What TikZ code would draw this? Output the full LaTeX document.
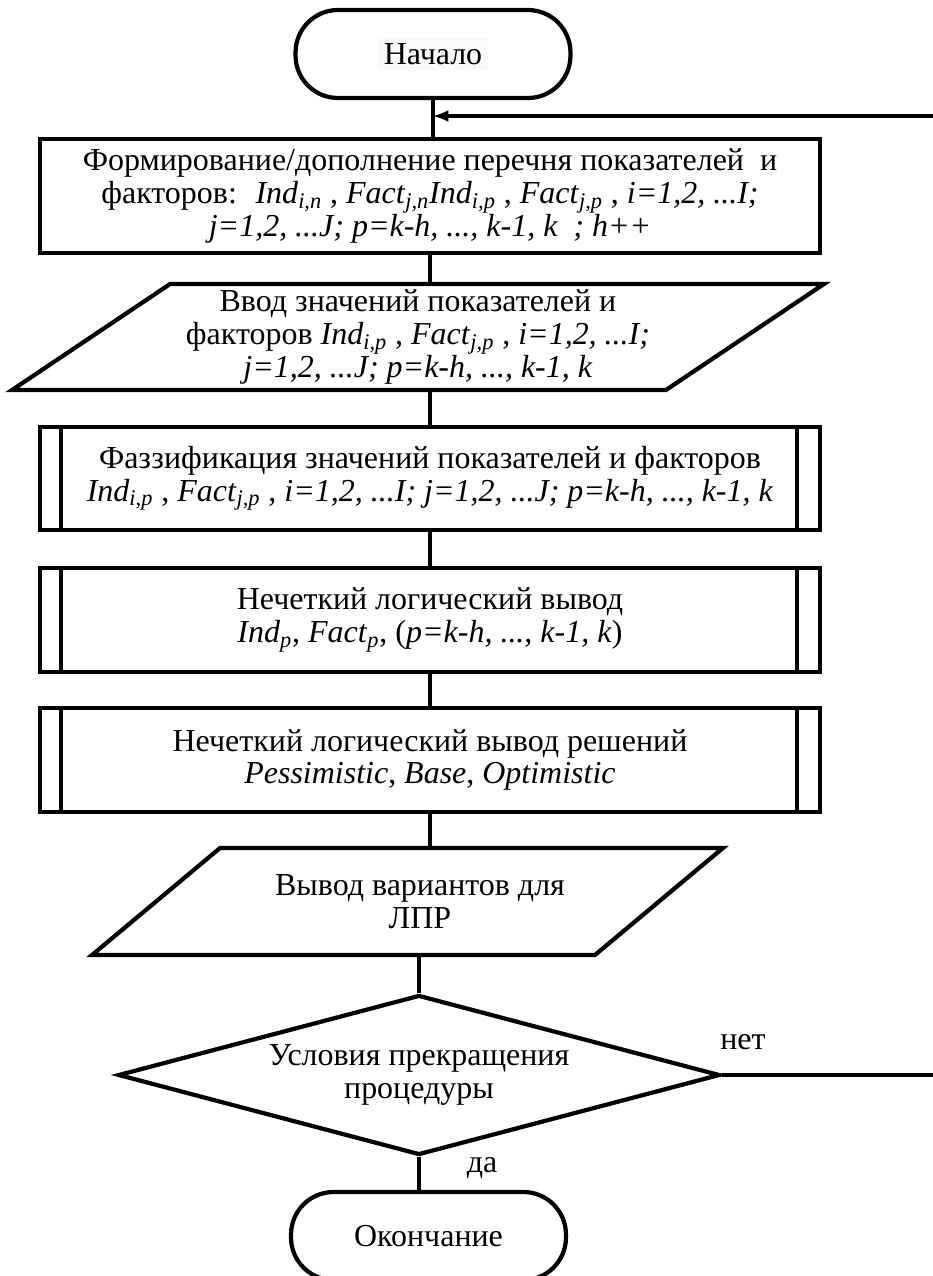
\documentclass[tikz,border=0pt]{standalone}
\usepackage{fontspec}
\setmainfont{Liberation Serif}
\usetikzlibrary{shapes.geometric}
\newcommand{\ix}[2]{\textit{#1}\textsubscript{\textit{#2}}}

\begin{document}
\begin{tikzpicture}[x=0.02cm,y=-0.02cm,
  font=\fontsize{18.2}{18.6}\selectfont,
  term/.style={draw,line width=2.4pt,rounded corners=0.85cm,minimum width=5.5cm,minimum height=1.76cm},
  proc/.style={draw,line width=2.4pt,minimum width=15.6cm,align=center,inner sep=0pt},
  io/.style={align=center,inner sep=0pt,outer sep=0pt},
  border/.style={line width=2.4pt,line join=miter},
  line/.style={line width=2pt}]
\useasboundingbox (0,0) rectangle (933,1276);

% blocks
\node[term] (start) at (433,54) {\colorbox{gray!4}{Начало}};
\node[proc,minimum height=2.28cm] (form) at (430,196) {Формирование/дополнение перечня показателей \ и\\
  факторов: \ \ix{Ind}{i,n} , \ix{Fact}{j,n}\ix{Ind}{i,p} , \ix{Fact}{j,p} , \textit{i=1,2, ...I;}\\
  \textit{j=1,2, ...J; p=k-h, ..., k-1, k \ ; h++}};
\node[io,minimum width=16.24cm,minimum height=2.12cm] (in) at (418,337) {Ввод значений показателей и\\
  факторов \ix{Ind}{i,p} , \ix{Fact}{j,p} , \textit{i=1,2, ...I;}\\
  \textit{j=1,2, ...J; p=k-h, ..., k-1, k}};
\node[proc,minimum height=2.06cm] (fz) at (430,478.5) {Фаззификация значений показателей и факторов\\
  \ix{Ind}{i,p} , \ix{Fact}{j,p} , \textit{i=1,2, ...I; j=1,2, ...J; p=k-h, ..., k-1, k}};
\node[proc,minimum height=2.08cm] (fl) at (430,620) {Нечеткий логический вывод\\
  \ix{Ind}{p}, \ix{Fact}{p}, (\textit{p=k-h, ..., k-1, k})};
\node[proc,minimum height=2.08cm] (dec) at (430,760) {Нечеткий логический вывод решений\\
  \textit{Pessimistic}, \textit{Base}, \textit{Optimistic}};
\node[io,minimum width=12.62cm,minimum height=2.14cm] (out) at (407.5,901.5) {\hspace{0.5cm}Вывод вариантов для\\ \hspace{0.5cm}ЛПР};
\node[draw,diamond,line width=2.4pt,aspect=3.8,minimum width=12.04cm,minimum height=3.2cm,inner sep=0pt,align=center] (stop) at (419,1075) {Условия прекращения\\ процедуры};
\node[term] (end) at (428.5,1236) {Окончание};

\node (no) at (743,1042) {нет};
\node (yes) at (482,1168) {да};
\coordinate (back) at (933,116);
\coordinate (noend) at (933,1075);

% parallelograms
\draw[border] ([xshift=3.16cm]in.north west) -- (in.north east) -- ([xshift=-3.16cm]in.south east) -- (in.south west) -- cycle;
\draw[border] ([xshift=2.56cm]out.north west) -- (out.north east) -- ([xshift=-2.56cm]out.south east) -- (out.south west) -- cycle;

% double side lines
\foreach \b in {fz,fl,dec} {
  \draw[line] ([xshift=0.46cm]\b.north west) -- ([xshift=0.46cm]\b.south west);
  \draw[line] ([xshift=-0.5cm]\b.north east) -- ([xshift=-0.5cm]\b.south east);
}

% connectors
\draw[line] (start) -- (start |- form.north);
\draw[line][-latex] (back) -- (back -| start.south);
\draw[line] (form.south) -- (form.south |- in.north);
\draw[line] (fz.north |- in.south) -- (fz.north);
\draw[line] (fz.south) -- (fl.north);
\draw[line] (fl.south) -- (dec.north);
\draw[line] (dec.south) -- (dec.south |- out.north);
\draw[line] (stop.north |- out.south) -- (stop.north);
\draw[line] (stop.east) -- (noend);
\draw[line] (stop.south) -- (stop.south |- end.north);
\end{tikzpicture}
\end{document}
